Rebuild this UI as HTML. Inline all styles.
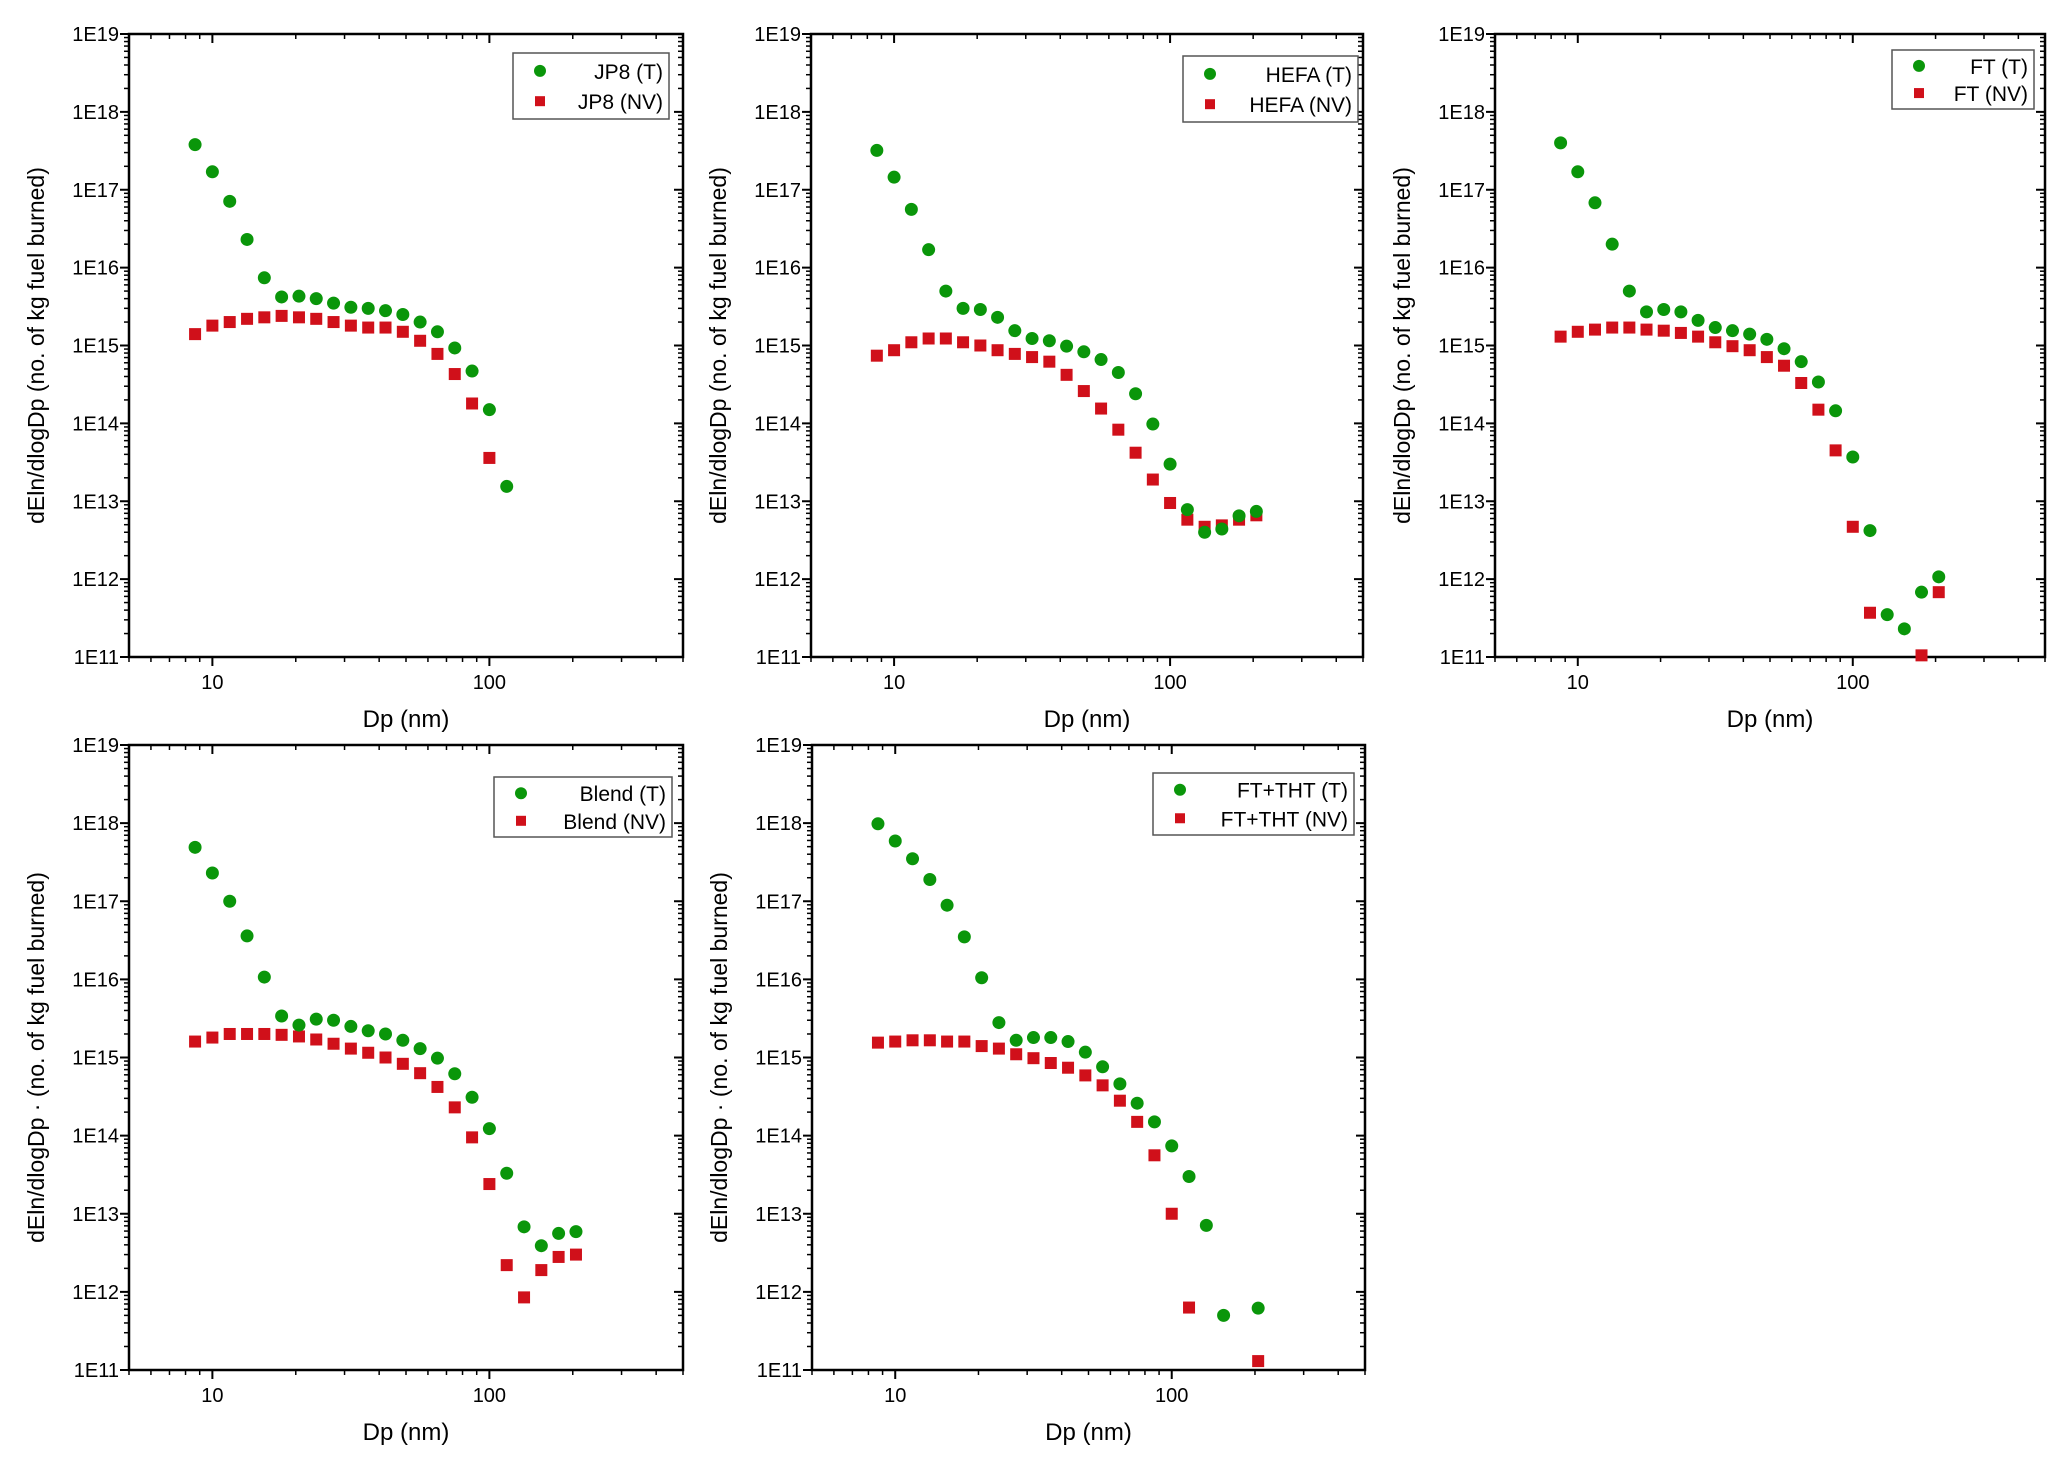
<!DOCTYPE html>
<html><head><meta charset="utf-8"><style>
html,body{margin:0;padding:0;background:#fff;}
svg{display:block;font-family:"Liberation Sans",Arial,sans-serif;}
</style></head><body>
<svg id="fig" width="2067" height="1474" viewBox="0 0 2067 1474" xmlns="http://www.w3.org/2000/svg"></svg>
<script>
const dp = [8.66,10,11.55,13.34,15.4,17.78,20.54,23.71,27.38,31.62,36.52,42.17,48.7,56.23,64.94,74.99,86.6,100,115.5,133.4,154,177.8,205.4];
const yTickLabels = ["1E11","1E12","1E13","1E14","1E15","1E16","1E17","1E18","1E19"];
const xTickLabels = ["10","100"];
const jp8T = [3.8e17,1.7e17,7.1e16,2.3e16,7.4e15,4.2e15,4.3e15,4.0e15,3.5e15,3.1e15,3.0e15,2.8e15,2.5e15,2.0e15,1.5e15,9.3e14,4.7e14,1.5e14,1.55e13];
const jp8NV = [1.4e15,1.8e15,2.0e15,2.2e15,2.3e15,2.4e15,2.3e15,2.2e15,2.0e15,1.8e15,1.7e15,1.7e15,1.5e15,1.15e15,7.8e14,4.3e14,1.8e14,3.6e13];
const hefaT = [3.2e17,1.45e17,5.6e16,1.7e16,5.0e15,3.0e15,2.9e15,2.3e15,1.55e15,1.23e15,1.15e15,9.8e14,8.3e14,6.6e14,4.5e14,2.4e14,9.8e13,3.0e13,7.8e12,4.0e12,4.4e12,6.5e12,7.4e12];
const hefaNV = [7.4e14,8.7e14,1.1e15,1.23e15,1.23e15,1.1e15,1.0e15,8.7e14,7.8e14,7.1e14,6.2e14,4.2e14,2.6e14,1.55e14,8.3e13,4.2e13,1.9e13,9.5e12,5.8e12,4.7e12,4.9e12,5.8e12,6.6e12];
const ftT = [4.0e17,1.7e17,6.8e16,2.0e16,5.0e15,2.7e15,2.9e15,2.7e15,2.1e15,1.7e15,1.55e15,1.4e15,1.2e15,9.1e14,6.2e14,3.4e14,1.45e14,3.7e13,4.2e12,3.5e11,2.3e11,6.8e11,1.07e12];
const ftNV = [1.3e15,1.5e15,1.6e15,1.7e15,1.7e15,1.6e15,1.55e15,1.45e15,1.3e15,1.1e15,9.8e14,8.7e14,7.1e14,5.5e14,3.3e14,1.5e14,4.5e13,4.7e12,3.7e11,null,null,1.05e11,6.8e11];
const blendT = [4.9e17,2.3e17,1.0e17,3.6e16,1.07e16,3.4e15,2.6e15,3.1e15,3.0e15,2.5e15,2.2e15,2.0e15,1.66e15,1.3e15,9.8e14,6.2e14,3.1e14,1.23e14,3.3e13,6.8e12,3.9e12,5.6e12,5.9e12];
const blendNV = [1.6e15,1.8e15,2.0e15,2.0e15,2.0e15,1.95e15,1.86e15,1.7e15,1.5e15,1.3e15,1.15e15,1.0e15,8.3e14,6.3e14,4.2e14,2.3e14,9.5e13,2.4e13,2.2e12,8.5e11,1.9e12,2.8e12,3.0e12];
const thtT = [9.8e17,5.9e17,3.5e17,1.9e17,8.9e16,3.5e16,1.05e16,2.8e15,1.66e15,1.8e15,1.8e15,1.6e15,1.17e15,7.6e14,4.6e14,2.6e14,1.5e14,7.4e13,3.0e13,7.1e12,5.0e11,null,6.2e11];
const thtNV = [1.55e15,1.6e15,1.66e15,1.66e15,1.6e15,1.6e15,1.4e15,1.3e15,1.1e15,9.8e14,8.5e14,7.4e14,5.9e14,4.4e14,2.8e14,1.5e14,5.6e13,1.0e13,6.3e11,null,null,null,1.3e11];

const NS="http://www.w3.org/2000/svg";
const fig=document.getElementById('fig');
function mk(tag,attrs,parent,text){const e=document.createElementNS(NS,tag);for(const k in attrs)e.setAttribute(k,attrs[k]);if(text!==undefined)e.textContent=text;parent.appendChild(e);return e;}

const panels=[
 {id:'jp8',x0:129,x1:683,y0:34,y1:657,T:jp8T,NV:jp8NV,lt:'JP8 (T)',ln:'JP8 (NV)',lg:[513,53,156,66],dot:false},
 {id:'hefa',x0:811,x1:1363,y0:34,y1:657,T:hefaT,NV:hefaNV,lt:'HEFA (T)',ln:'HEFA (NV)',lg:[1183,56,175,66],dot:false},
 {id:'ft',x0:1495,x1:2045,y0:34,y1:657,T:ftT,NV:ftNV,lt:'FT (T)',ln:'FT (NV)',lg:[1892,50,142,59],dot:false},
 {id:'blend',x0:129,x1:683,y0:745,y1:1370,T:blendT,NV:blendNV,lt:'Blend (T)',ln:'Blend (NV)',lg:[494,777,178,60],dot:true},
 {id:'ft-tht',x0:812,x1:1365,y0:745,y1:1370,T:thtT,NV:thtNV,lt:'FT+THT (T)',ln:'FT+THT (NV)',lg:[1153,773,201,62],dot:true}
];
const XMIN=5,XMAX=500,YMIN=11,YMAX=19;
panels.forEach(p=>{
  const g=mk('g',{},fig);
  
  
  const sx=v=>p.x0+(Math.log10(v)-Math.log10(XMIN))/(Math.log10(XMAX)-Math.log10(XMIN))*(p.x1-p.x0);
  const sy=v=>p.y1-(Math.log10(v)-YMIN)/(YMAX-YMIN)*(p.y1-p.y0);
  const frame=mk('rect',{x:p.x0,y:p.y0,width:p.x1-p.x0,height:p.y1-p.y0,fill:'none',stroke:'#000','stroke-width':2.5},g);
  
  
  for(let d=YMIN;d<=YMAX;d++){
    const y=sy(Math.pow(10,d));
    mk('line',{x1:p.x0-9,x2:p.x0,y1:y,y2:y,stroke:'#000','stroke-width':2},g);
    mk('line',{x1:p.x1,x2:p.x1-9,y1:y,y2:y,stroke:'#000','stroke-width':2},g);
    const t=mk('text',{x:p.x0-10,y:y+7,'text-anchor':'end','font-size':20,fill:'#000'},g,yTickLabels[d-YMIN]);
    
    
    if(d<YMAX){for(let m=2;m<10;m++){const ym=sy(m*Math.pow(10,d));
      mk('line',{x1:p.x0-5,x2:p.x0,y1:ym,y2:ym,stroke:'#000','stroke-width':1.5},g);
      mk('line',{x1:p.x1,x2:p.x1-5,y1:ym,y2:ym,stroke:'#000','stroke-width':1.5},g);}}
  }
  [10,100].forEach((v,i)=>{const x=sx(v);
    mk('line',{x1:x,x2:x,y1:p.y1,y2:p.y1+9,stroke:'#000','stroke-width':2},g);
    mk('line',{x1:x,x2:x,y1:p.y0,y2:p.y0+9,stroke:'#000','stroke-width':2},g);
    const t=mk('text',{x:x,y:p.y1+32,'text-anchor':'middle','font-size':20},g,xTickLabels[i]);
    
    });
  [1,10,100].forEach(dec=>{for(let m=1;m<10;m++){const v=m*dec;if(v<XMIN||v>XMAX||m===1)continue;const x=sx(v);
    mk('line',{x1:x,x2:x,y1:p.y1,y2:p.y1+5,stroke:'#000','stroke-width':1.5},g);
    mk('line',{x1:x,x2:x,y1:p.y0,y2:p.y0+5,stroke:'#000','stroke-width':1.5},g);}});
  const xt=mk('text',{x:(p.x0+p.x1)/2,y:p.y1+70,'text-anchor':'middle','font-size':24},g,'Dp (nm)');
  
  
  const cy=(p.y0+p.y1)/2, cx=p.x0-85;
  const yt=mk('text',{x:cx,y:cy,'text-anchor':'middle','font-size':23,transform:`rotate(-90 ${cx} ${cy})`},g,p.dot?'dEln/dlogDp · (no. of kg fuel burned)':'dEln/dlogDp (no. of kg fuel burned)');
  
  
  p.NV.forEach((v,i)=>{if(v==null)return;const x=sx(dp[i]),y=sy(v);
    const r=mk('rect',{x:x-6,y:y-6,width:12,height:12,fill:'#d0101a'},g);
    
    });
  p.T.forEach((v,i)=>{if(v==null)return;const x=sx(dp[i]),y=sy(v);
    const c=mk('circle',{cx:x,cy:y,r:6.5,fill:'#0a960a'},g);
    
    });
  const [lx,ly,lw,lh]=p.lg;
  const lgG=mk('g',{},g);
  
  
  mk('rect',{x:lx,y:ly,width:lw,height:lh,fill:'#fff',stroke:'#555','stroke-width':1.5},lgG);
  mk('circle',{cx:lx+27,cy:ly+lh*0.27,r:6,fill:'#0a960a'},lgG);
  mk('rect',{x:lx+22,y:ly+lh*0.73-5,width:10,height:10,fill:'#d0101a'},lgG);
  const e1=mk('text',{x:lx+lw-6,y:ly+lh*0.27+8,'text-anchor':'end','font-size':21},lgG,p.lt);
  
  
  const e2=mk('text',{x:lx+lw-6,y:ly+lh*0.73+8,'text-anchor':'end','font-size':21},lgG,p.ln);
  
  
});
</script>
</body></html>
